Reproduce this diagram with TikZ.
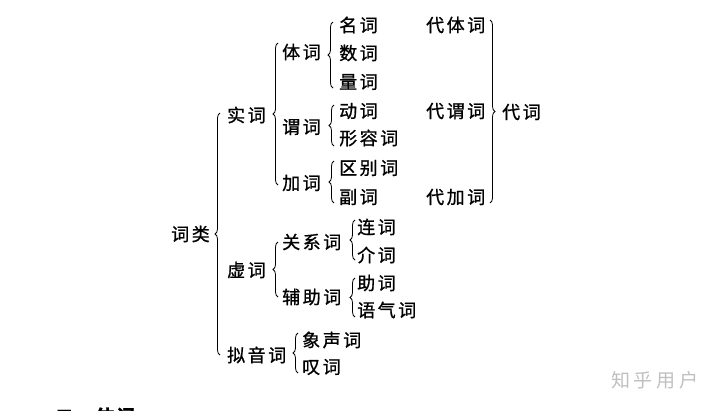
\documentclass[tikz,border=0pt]{standalone}
\usepackage{fontspec}
\setmainfont{Noto Sans CJK SC}[LetterSpace=14, FakeBold=1]
\newfontfamily\wmfont{Noto Sans CJK SC}[LetterSpace=20]
\usetikzlibrary{decorations.pathreplacing}
\tikzset{
  word/.style={anchor=west, inner sep=0pt, font=\fontsize{18}{20}\selectfont},
  brc/.style={decorate, decoration={brace, amplitude=5pt}, line width=0.8pt},
}

\begin{document}
\begin{tikzpicture}[x=1pt, y=-1pt]
\useasboundingbox (0,0) rectangle (720,410);
\clip (0,0) rectangle (720,410);
% level 1
\node [word] (ciLei) at (171,234) {词类};
\node [word] (shiCi) at (227,115) {实词};
\node [word] (xuCi) at (227,270) {虚词};
\node [word] (niYin) at (227,355) {拟音词};
% level 2
\node [word] (tiCi) at (282,52) {体词};
\node [word] (weiCi) at (282,127) {谓词};
\node [word] (jiaCi) at (282,183) {加词};
\node [word] (guanXi) at (282,242) {关系词};
\node [word] (fuZhu) at (282,297) {辅助词};
\node [word] (xiangSheng) at (302,340) {象声词};
\node [word] (tanCi) at (302,367) {叹词};
% level 3
\node [word] (mingCi) at (339,25) {名词};
\node [word] (shuCi) at (339,53) {数词};
\node [word] (liangCi) at (339,82) {量词};
\node [word] (dongCi) at (339,111) {动词};
\node [word] (xingRong) at (339,138) {形容词};
\node [word] (quBie) at (339,168) {区别词};
\node [word] (fuCi) at (339,197) {副词};
\node [word] (lianCi) at (357,227) {连词};
\node [word] (jieCi) at (357,255) {介词};
\node [word] (zhuCi) at (357,283) {助词};
\node [word] (yuQi) at (357,310) {语气词};
% pronouns
\node [word] (daiTi) at (426,25) {代体词};
\node [word] (daiWei) at (426,111) {代谓词};
\node [word] (daiJia) at (426,197) {代加词};
\node [word] (daiCi) at (502,112) {代词};
% braces
\draw [brc] ([xshift=-7pt]niYin.west) -- ([xshift=-7pt,yshift=2pt]shiCi.west);
\draw [brc] ([xshift=-4pt,yshift=-2pt]jiaCi.west) -- ([xshift=-4pt,yshift=9pt]tiCi.west);
\draw [brc] ([xshift=-4pt]fuZhu.west) -- ([xshift=-4pt]guanXi.west);
\draw [brc] ([xshift=-4pt,yshift=-6pt]tanCi.west) -- ([xshift=-4pt,yshift=7pt]xiangSheng.west);
\draw [brc] ([xshift=-6pt,yshift=-6pt]liangCi.west) -- ([xshift=-6pt,yshift=3pt]mingCi.west);
\draw [brc] ([xshift=-5pt,yshift=-8pt]xingRong.west) -- ([xshift=-5pt,yshift=6pt]dongCi.west);
\draw [brc] ([xshift=-5pt,yshift=-6pt]fuCi.west) -- ([xshift=-5pt,yshift=7pt]quBie.west);
\draw [brc] ([xshift=-2pt,yshift=-5pt]jieCi.west) -- ([xshift=-2pt,yshift=7pt]lianCi.west);
\draw [brc] ([xshift=-2pt,yshift=-7pt]yuQi.west) -- ([xshift=-2pt,yshift=5pt]zhuCi.west);
\draw [brc] ([xshift=64pt,yshift=5pt]daiTi.west) -- ([xshift=64pt,yshift=-6pt]daiJia.west);
% watermark and cut heading
\node [anchor=west, inner sep=0pt, text=black!25, font=\wmfont\fontsize{19}{20}\selectfont] (wm) at (611,380) {知乎用户};
\node [anchor=west, inner sep=0pt, font=\bfseries\fontsize{18}{20}\selectfont] (head) at (55,416) {二、体词};
\end{tikzpicture}
\end{document}
